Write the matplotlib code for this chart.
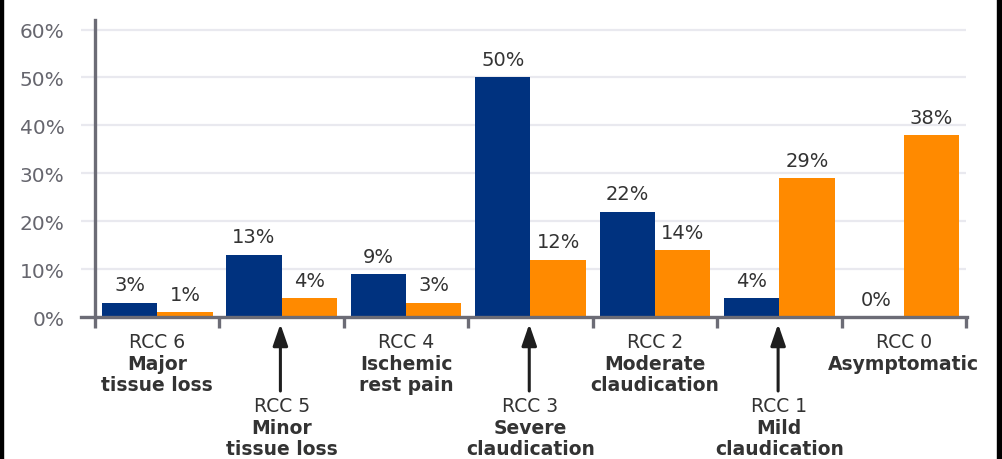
import matplotlib
matplotlib.use("Agg")
import matplotlib.pyplot as plt
from matplotlib.patches import Rectangle

# Rutherford category data
codes = ["RCC 6", "RCC 5", "RCC 4", "RCC 3", "RCC 2", "RCC 1", "RCC 0"]
descriptions = ["Major\ntissue loss", "Minor\ntissue loss", "Ischemic\nrest pain",
                "Severe\nclaudication", "Moderate\nclaudication", "Mild\nclaudication",
                "Asymptomatic"]
series_a = [3, 13, 9, 50, 22, 4, 0]      # navy bars
series_b = [1, 4, 3, 12, 14, 29, 38]     # orange bars
staggered = [False, True, False, True, False, True, False]
yticks = [0, 10, 20, 30, 40, 50, 60]

NAVY = "#00327f"
ORANGE = "#ff8a00"
AXIS = "#6c6c76"
GRID = "#e9e9ef"
TEXT = "#333333"
TICKTXT = "#66666e"
FONT = "DejaVu Sans"

W, H = 1002, 460
fig = plt.figure(figsize=(W / 100, H / 100), dpi=100)
fig.patch.set_facecolor("white")

# axes box in pixel terms
x0, x1 = 95, 966
y_base, y_top = 318, 21
ax = fig.add_axes([x0 / W, (H - y_base) / H, (x1 - x0) / W, (y_base - y_top) / H])
ax.set_facecolor("none")

n = len(codes)
ax.set_xlim(-0.5, n - 0.5)
ax.set_ylim(0, 62)

bw = 0.445
xs = list(range(n))
ax.bar([x - bw / 2 for x in xs], series_a, width=bw, color=NAVY, zorder=3)
ax.bar([x + bw / 2 for x in xs], series_b, width=bw, color=ORANGE, zorder=3)

# value labels
for x, v in zip(xs, series_a):
    ax.annotate(f"{v}%", (x - bw / 2, v), xytext=(0, 6), textcoords="offset points",
                ha="center", va="bottom", fontsize=14, color=TEXT, family=FONT)
for x, v in zip(xs, series_b):
    ax.annotate(f"{v}%", (x + bw / 2, v), xytext=(0, 6), textcoords="offset points",
                ha="center", va="bottom", fontsize=14, color=TEXT, family=FONT)

# grid
ax.set_yticks(yticks)
ax.set_yticklabels([f"{t}%" for t in yticks], fontsize=14.5, color=TICKTXT, family=FONT)
ax.yaxis.grid(True, color=GRID, linewidth=1.6, zorder=0)
ax.tick_params(axis="y", length=10, width=1.6, color=GRID, pad=12)
ax.set_axisbelow(True)

# spines
for s in ["top", "right", "bottom"]:
    ax.spines[s].set_visible(False)
ax.spines["left"].set_color(AXIS)
ax.spines["left"].set_linewidth(2.4)
ax.spines["left"].set_zorder(5)

# baseline extending to the left of the value axis
ax.axhline(0, xmin=-14 / (x1 - x0), xmax=1.0015, color=AXIS, linewidth=2.4,
           clip_on=False, zorder=5)

# group separator ticks
ax.set_xticks([i - 0.5 for i in range(n + 1)])
ax.set_xticklabels([])
ax.tick_params(axis="x", length=8, width=2.4, color=AXIS, direction="out")

# category labels
ax_h = y_base - y_top
def frac(py):
    return (y_base - py) / ax_h

for x, code, desc, stag in zip(xs, codes, descriptions, staggered):
    off = 64 if stag else 0
    lines = desc.split("\n")
    ax.text(x, frac(343 + off), code, transform=ax.get_xaxis_transform(),
            ha="center", va="center", fontsize=13.5, color=TEXT, family=FONT)
    for k, line in enumerate(lines):
        ax.text(x, frac(364 + off + 21.5 * k), line, transform=ax.get_xaxis_transform(),
                ha="center", va="center", fontsize=13.5, color=TEXT, family=FONT,
                fontweight="bold")
    if stag:
        ax.annotate("", xy=(x - 0.01, frac(325)), xytext=(x - 0.01, frac(392)),
                    xycoords=ax.get_xaxis_transform(), textcoords=ax.get_xaxis_transform(),
                    arrowprops=dict(arrowstyle="-|>,head_length=1.3,head_width=0.45",
                                    color="#1e1e1e", linewidth=2.2,
                                    shrinkA=0, shrinkB=0))

# frame edges
fig.patches.append(Rectangle((0, 0), 3 / W, 1, transform=fig.transFigure,
                             color="black", zorder=10))
fig.patches.append(Rectangle((997 / W, 0), 5 / W, 1, transform=fig.transFigure,
                             color="black", zorder=10))

fig.savefig("out.png", dpi=100, facecolor="white")
